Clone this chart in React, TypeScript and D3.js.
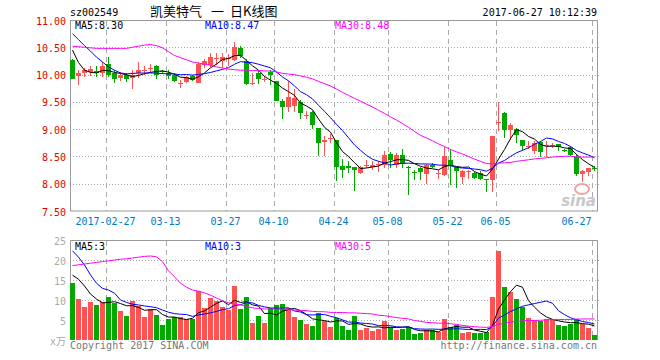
import React from 'react';
import * as d3 from 'd3';

// ---------- data ----------
const dates: string[] = [
  '2017-02-17', '2017-02-20', '2017-02-21', '2017-02-22', '2017-02-23', '2017-02-24', '2017-02-27', '2017-02-28',
  '2017-03-01', '2017-03-02', '2017-03-03', '2017-03-06', '2017-03-07', '2017-03-08', '2017-03-09', '2017-03-10',
  '2017-03-13', '2017-03-14', '2017-03-15', '2017-03-16', '2017-03-17', '2017-03-20', '2017-03-21', '2017-03-22',
  '2017-03-23', '2017-03-24', '2017-03-27', '2017-03-28', '2017-03-29', '2017-03-30', '2017-03-31',
  '2017-04-05', '2017-04-06', '2017-04-07', '2017-04-10', '2017-04-11', '2017-04-12', '2017-04-13', '2017-04-14',
  '2017-04-17', '2017-04-18', '2017-04-19', '2017-04-20', '2017-04-21', '2017-04-24', '2017-04-25', '2017-04-26',
  '2017-04-27', '2017-04-28',
  '2017-05-02', '2017-05-03', '2017-05-04', '2017-05-05', '2017-05-08', '2017-05-09', '2017-05-10', '2017-05-11',
  '2017-05-12', '2017-05-15', '2017-05-16', '2017-05-17', '2017-05-18', '2017-05-19', '2017-05-22', '2017-05-23',
  '2017-05-24', '2017-05-25', '2017-05-26', '2017-05-31',
  '2017-06-01', '2017-06-02', '2017-06-05', '2017-06-06', '2017-06-07', '2017-06-08', '2017-06-09', '2017-06-12',
  '2017-06-13', '2017-06-14', '2017-06-15', '2017-06-16', '2017-06-19', '2017-06-20', '2017-06-21', '2017-06-22',
  '2017-06-23', '2017-06-26', '2017-06-27',
];

const open: number[] = [
  10.27, 9.97, 10.03, 10.04, 10.07, 10.03, 10.20, 10.03, 9.93, 10.00,
  9.94, 10.03, 10.07, 10.11, 10.15, 10.06, 10.03, 10.00, 9.84, 9.87,
  9.97, 9.85, 10.18, 10.17, 10.29, 10.24, 10.29, 10.26, 10.48, 10.24,
  9.83, 10.03, 9.91, 10.04, 9.88, 9.52, 9.40, 9.43, 9.50, 9.25,
  9.32, 9.02, 8.76, 8.83, 8.80, 8.32, 8.32, 8.30, 8.19, 8.34,
  8.31, 8.36, 8.34, 8.55, 8.34, 8.52, 8.31, 8.22, 8.28, 8.17,
  8.35, 8.19, 8.16, 8.43, 8.30, 8.13, 8.22, 8.19, 8.20, 8.08,
  8.07, 9.12, 9.30, 8.98, 9.00, 8.81, 8.68, 8.60, 8.76, 8.70,
  8.70, 8.72, 8.62, 8.67, 8.49, 8.18, 8.21, 8.28,
];
const high: number[] = [
  10.28, 10.09, 10.12, 10.15, 10.16, 10.23, 10.32, 10.09, 10.04, 10.02,
  10.09, 10.23, 10.16, 10.20, 10.17, 10.08, 10.08, 10.03, 9.90, 9.98,
  9.99, 10.23, 10.29, 10.40, 10.40, 10.40, 10.37, 10.60, 10.52, 10.29,
  10.03, 10.06, 9.97, 10.09, 9.89, 9.56, 9.88, 9.74, 9.54, 9.33,
  9.33, 9.02, 8.87, 8.91, 8.80, 8.45, 8.41, 8.30, 8.32, 8.43,
  8.41, 8.41, 8.60, 8.58, 8.57, 8.64, 8.32, 8.26, 8.31, 8.37,
  8.38, 8.26, 8.67, 8.63, 8.30, 8.26, 8.26, 8.21, 8.23, 8.09,
  8.87, 9.49, 9.31, 9.12, 9.02, 8.81, 8.78, 8.78, 8.78, 8.78,
  8.74, 8.72, 8.64, 8.69, 8.54, 8.26, 8.29, 8.32,
];
const low: number[] = [
  9.92, 9.80, 9.96, 9.98, 9.96, 9.96, 9.96, 9.84, 9.88, 9.87,
  9.74, 9.94, 10.00, 10.03, 9.91, 10.01, 9.91, 9.87, 9.76, 9.85,
  9.88, 9.84, 10.12, 10.14, 10.17, 10.12, 10.16, 10.25, 10.30, 9.80,
  9.80, 9.82, 9.86, 9.80, 9.52, 9.18, 9.32, 9.32, 9.19, 9.19,
  9.00, 8.51, 8.51, 8.75, 8.05, 8.11, 8.19, 7.87, 8.17, 8.28,
  8.26, 8.21, 8.28, 8.29, 8.29, 8.29, 7.79, 8.06, 8.06, 8.00,
  8.28, 8.08, 8.14, 7.98, 7.93, 8.00, 8.09, 8.09, 8.06, 7.84,
  7.84, 8.96, 8.84, 8.81, 8.74, 8.60, 8.63, 8.54, 8.49, 8.49,
  8.66, 8.60, 8.58, 8.51, 8.15, 8.03, 8.14, 8.23,
];
const close: number[] = [
  9.92, 10.02, 10.08, 10.10, 10.03, 10.15, 10.00, 9.92, 10.00, 9.91,
  10.00, 10.09, 10.08, 10.12, 10.00, 10.05, 9.97, 9.89, 9.85, 9.96,
  9.90, 10.20, 10.24, 10.32, 10.30, 10.32, 10.30, 10.50, 10.34, 9.82,
  9.84, 9.91, 9.92, 10.00, 9.52, 9.41, 9.59, 9.57, 9.29, 9.26,
  9.07, 8.74, 8.81, 8.84, 8.30, 8.26, 8.28, 8.25, 8.30, 8.35,
  8.35, 8.37, 8.52, 8.43, 8.52, 8.37, 8.30, 8.21, 8.21, 8.34,
  8.31, 8.20, 8.51, 8.33, 8.23, 8.23, 8.23, 8.10, 8.08, 8.07,
  8.87, 9.13, 8.99, 9.07, 8.89, 8.69, 8.69, 8.75, 8.58, 8.71,
  8.71, 8.67, 8.61, 8.52, 8.17, 8.24, 8.29, 8.27,
];
const volume: number[] = [
  14.3, 10.25, 8.25, 9.6, 8.75, 9.6, 10.75, 9.2, 7.25, 6.0,
  9.75, 8.5, 5.75, 7.7, 6.25, 3.75, 5.25, 5.7, 5.75, 5.2,
  5.2, 12.25, 8.0, 10.5, 9.8, 8.3, 7.5, 13.6, 7.75, 10.75,
  4.3, 6.0, 4.3, 8.0, 8.75, 9.0, 8.0, 5.8, 5.1, 4.0,
  3.6, 6.8, 4.8, 3.3, 5.4, 3.5, 2.5, 6.0, 2.5, 2.9,
  2.25, 2.75, 4.75, 3.3, 2.5, 2.75, 3.2, 1.4, 1.7, 2.5,
  2.5, 2.1, 5.2, 3.3, 3.7, 1.7, 2.1, 1.7, 1.7, 2.1,
  10.8, 22.3, 13.2, 12.0, 10.25, 8.2, 5.6, 5.0, 4.8, 5.2,
  5.2, 3.75, 3.5, 4.0, 5.2, 4.0, 3.1, 1.25,
];

// moving-average values before the window is full (they depend on earlier days)
const priceMa5Head: number[] = [10.45, 10.22, 10.08, 10.04];
const priceMa10Head: number[] = [10.75, 10.64, 10.53, 10.43, 10.32, 10.23, 10.14, 10.08, 10.03];
const priceMa30Head: number[] = [
  10.52, 10.51, 10.50, 10.49, 10.48, 10.48, 10.48, 10.48, 10.48, 10.48,
  10.50, 10.52, 10.54, 10.55, 10.53, 10.49, 10.42, 10.35, 10.31, 10.27,
  10.23, 10.21, 10.19, 10.17, 10.14, 10.12, 10.10, 10.09, 10.08,
];
const volMa5Head: number[] = [16.2, 15.2, 13.5, 11.5];
const volMa10Head: number[] = [22.3, 20.7, 18.75, 16.25, 14.2, 12.9, 12.5, 11.7, 10.0];
const volMa30Head: number[] = [
  18.6, 18.8, 19.0, 19.2, 19.4, 19.6, 19.8, 20.0, 20.2, 20.3,
  20.5, 20.7, 20.9, 21.0, 20.8, 19.6, 17.3, 15.8, 14.2, 13.2,
  12.5, 12.2, 11.8, 11.2, 10.5, 9.8, 9.3, 9.0, 8.8,
];

const tickDates: string[] = ['2017-02-27', '2017-03-13', '2017-03-27', '2017-04-10', '2017-04-24', '2017-05-08', '2017-05-22', '2017-06-05', '2017-06-27'];
const tickLabels: string[] = ['2017-02-27', '03-13', '03-27', '04-10', '04-24', '05-08', '05-22', '06-05', '06-27'];
const priceTicks: number[] = [11, 10.5, 10, 9.5, 9, 8.5, 8, 7.5];
const volTicks: number[] = [25, 20, 15, 10, 5];

const stockCode = 'sz002549';
const timeStamp = '2017-06-27 10:12:39';
const priceMaLabels: string[] = ['MA5:8.30', 'MA10:8.47', 'MA30:8.48'];
const volMaLabels: string[] = ['MA5:3', 'MA10:3', 'MA30:5'];

function movingAvg(vals: number[], n: number, head: number[]): number[] {
  return vals.map((_, i) => (i < n - 1 ? head[i] : d3.mean(vals.slice(i - n + 1, i + 1)) as number));
}

const RED = '#ff5252';
const GREEN = '#00a800';
const GRID = '#aaaaaa';
const FRAME = '#999999';
const MONO = '"DejaVu Sans Mono", "Liberation Mono", monospace';
const CJK = '"Noto Sans CJK SC", sans-serif';
const MA_COLORS = ['#000000', '#0000ff', '#ff00ff'];

export default function App() {
  const L = 70, R = 598;
  const x = d3.scaleBand<string>().domain(dates).range([L, R]).padding(0);
  const y = d3.scaleLinear().domain([7.5, 11]).range([211, 20]);
  const yv = d3.scaleLinear().domain([0, 25]).range([340, 240]);
  const cx = (i: number) => (x(dates[i]) as number) + 2.5;

  const pMa = [
    movingAvg(close, 5, priceMa5Head),
    movingAvg(close, 10, priceMa10Head),
    movingAvg(close, 30, priceMa30Head),
  ];
  const vMa = [
    movingAvg(volume, 5, volMa5Head),
    movingAvg(volume, 10, volMa10Head),
    movingAvg(volume, 30, volMa30Head),
  ];
  const pLine = d3.line<number>().x((_, i) => cx(i)).y((v) => y(v));
  const vLine = d3.line<number>().x((_, i) => cx(i)).y((v) => yv(v));

  const frameRight = 597.5;
  const gridXs = tickDates.map((d) => (x(d) as number) + 0.5);

  return (
    <svg width={660} height={360} style={{ position: 'fixed', left: 0, top: 0, background: '#fff' }}>
      <rect x={0} y={0} width={660} height={360} fill="#fff" />
      {/* header */}
      <text x={70} y={16} fontFamily={MONO} fontSize={10} fill="#000">{stockCode}</text>
      <text y={16} fontFamily={CJK} fontSize={13} fill="#000">
        <tspan x={150}>凯美特气</tspan>
        <tspan x={211}>一</tspan>
        <tspan x={230}>日K线图</tspan>
      </text>
      <text x={597} y={16} fontFamily={MONO} fontSize={10} fill="#000" textAnchor="end">{timeStamp}</text>

      {/* price panel grid */}
      {priceTicks.slice(1, -1).map((t) => (
        <line key={'pg' + t} x1={L} x2={599} y1={Math.round(y(t)) + 0.5} y2={Math.round(y(t)) + 0.5}
          stroke={GRID} strokeDasharray="1,2" />
      ))}
      {gridXs.map((gx, i) => (
        <line key={'pv' + i} x1={gx} x2={gx} y1={21} y2={211} stroke={GRID} strokeDasharray="5,4" />
      ))}
      <rect x={70.5} y={20.5} width={frameRight - 70.5} height={190.5} fill="none" stroke={FRAME} />

      {/* watermark */}
      <ellipse cx={582} cy={189} rx={7} ry={5} fill="none" stroke="#f4a0a0" strokeWidth={2} />
      <text x={596} y={206} textAnchor="end" fontFamily='"DejaVu Sans", sans-serif' fontStyle="italic" fontWeight="bold"
        fontSize={15} fill="#c8c8c8">sina</text>

      {/* candles */}
      {dates.map((d, i) => {
        const up = close[i] >= open[i];
        const col = up ? RED : GREEN;
        const x0 = x(d) as number;
        const yTop = Math.round(y(Math.max(open[i], close[i])));
        const yBot = Math.round(y(Math.min(open[i], close[i])));
        const hh = Math.max(1, yBot - yTop);
        return (
          <g key={'c' + i}>
            <rect x={x0 + 2} y={Math.round(y(high[i]))} width={1}
              height={Math.max(1, Math.round(y(low[i])) - Math.round(y(high[i])))} fill={col} />
            <rect x={x0} y={yTop} width={5} height={hh} fill={col} />
          </g>
        );
      })}
      {pMa.map((m, k) => (
        <path key={'pm' + k} d={pLine(m) as string} fill="none" stroke={MA_COLORS[k]} strokeWidth={1} />
      ))}

      {/* price labels */}
      {priceTicks.map((t) => (
        <text key={'pl' + t} x={66} y={y(t) + 4.5} textAnchor="end" fontFamily={MONO} fontSize={10} fill="#e00000">
          {t.toFixed(2)}
        </text>
      ))}
      {priceMaLabels.map((s, k) => (
        <text key={'pml' + k} x={[75, 205, 335][k]} y={29} fontFamily={MONO} fontSize={10} fill={MA_COLORS[k]}>{s}</text>
      ))}

      {/* date labels */}
      {tickLabels.map((s, i) => (
        <text key={'dl' + i} x={i === tickLabels.length - 1 ? gridXs[i] - 1 : gridXs[i] - 1} y={225}
          textAnchor={i === tickLabels.length - 1 ? 'end' : 'middle'} fontFamily={MONO} fontSize={10} fill="#0078c8">
          {s}
        </text>
      ))}

      {/* volume panel */}
      {volTicks.slice(1).map((t) => (
        <line key={'vg' + t} x1={L} x2={599} y1={yv(t) + 0.5} y2={yv(t) + 0.5} stroke={GRID} strokeDasharray="1,2" />
      ))}
      {gridXs.map((gx, i) => (
        <line key={'vv' + i} x1={gx} x2={gx} y1={241} y2={340} stroke={GRID} strokeDasharray="5,4" />
      ))}
      <path d={`M70.5,340 V240.5 H${frameRight} V340`} fill="none" stroke={FRAME} />
      {dates.map((d, i) => {
        const up = close[i] >= open[i];
        const top = Math.round(yv(volume[i]));
        return <rect key={'v' + i} x={x(d) as number} y={top} width={5} height={340 - top} fill={up ? RED : GREEN} />;
      })}
      {vMa.map((m, k) => (
        <path key={'vm' + k} d={vLine(m) as string} fill="none" stroke={MA_COLORS[k]} strokeWidth={1} />
      ))}
      {volTicks.map((t) => (
        <text key={'vl' + t} x={66} y={yv(t) + 4.5} textAnchor="end" fontFamily={MONO} fontSize={10} fill="#aaaaaa">{t}</text>
      ))}
      {volMaLabels.map((s, k) => (
        <text key={'vml' + k} x={[75, 205, 335][k]} y={250} fontFamily={MONO} fontSize={10} fill={MA_COLORS[k]}>{s}</text>
      ))}
      <text x={50} y={345} fontFamily={MONO} fontSize={10} fill="#aaaaaa">x<tspan fontFamily={CJK}>万</tspan></text>
      <text x={70} y={349} fontFamily={MONO} fontSize={10} fill="#777777">Copyright 2017 SINA.COM</text>
      <text x={597} y={349} textAnchor="end" fontFamily={MONO} fontSize={10} fill="#777777">http://finance.sina.com.cn</text>
    </svg>
  );
}
